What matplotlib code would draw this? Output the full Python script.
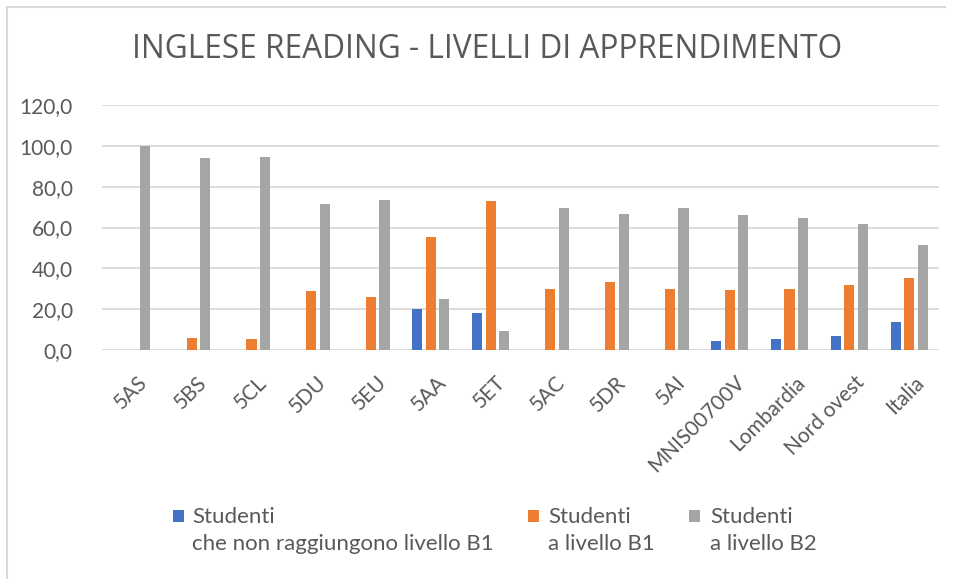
import numpy as np
import matplotlib
matplotlib.use("Agg")
import matplotlib.pyplot as plt
import matplotlib.transforms as mtransforms
from matplotlib.lines import Line2D
from matplotlib.patches import Rectangle

CATS = ["5AS", "5BS", "5CL", "5DU", "5EU", "5AA", "5ET", "5AC", "5DR", "5AI",
        "MNIS00700V", "Lombardia", "Nord ovest", "Italia"]
NON_B1 = [0, 0, 0, 0, 0, 20.0, 18.0, 0, 0, 0, 4.3, 5.4, 6.7, 13.6]
LIV_B1 = [0, 6.1, 5.4, 28.9, 26.2, 55.4, 72.8, 30.0, 33.3, 30.0, 29.5, 30.0, 32.0, 35.1]
LIV_B2 = [100.0, 93.8, 94.3, 71.6, 73.6, 25.1, 9.3, 69.7, 66.6, 69.7, 65.9, 64.8, 61.5, 51.5]
LABELS = ["Studenti\nche non raggiungono livello B1",
          "Studenti\na livello B1",
          "Studenti\na livello B2"]
COLORS = ["#4472C4", "#ED7D31", "#A5A5A5"]
TXT = "#595959"
FONT = "Lato"

W, H = 955, 579
fig = plt.figure(figsize=(W / 100, H / 100), dpi=100)
ax = fig.add_axes([102 / W, 1 - 350 / H, 837 / W, 245 / H])

x = np.arange(len(CATS))
off = 0.226
for i, (vals, col) in enumerate(zip([NON_B1, LIV_B1, LIV_B2], COLORS)):
    ax.bar(x + (i - 1) * off, vals, width=0.17, color=col, linewidth=0, zorder=3)

ax.set_xlim(-0.5, len(CATS) - 0.5)
ax.set_ylim(0, 120)
ax.set_yticks(np.arange(0, 121, 20))
ax.set_yticklabels([f"{v:.1f}".replace(".", ",") for v in np.arange(0, 121, 20)],
                   fontsize=15, color=TXT, family=FONT)
ax.yaxis.grid(True, color="#d9d9d9", lw=1.3, zorder=0)
ax.set_axisbelow(True)
for s in ax.spines.values():
    s.set_visible(False)
ax.tick_params(axis="y", length=0, pad=21)
ax.tick_params(axis="x", length=0, pad=16)
ax.set_xticks(x)
ax.set_xticklabels(CATS, rotation=45, ha="right", va="top", rotation_mode="anchor",
                   fontsize=15, color=TXT, family=FONT)
shift = mtransforms.ScaledTranslation(5 / 100, 0, fig.dpi_scale_trans)
for lab in ax.get_xticklabels():
    lab.set_transform(lab.get_transform() + shift)

fig.text(487 / W, 1 - 50 / H, "INGLESE READING - LIVELLI DI APPRENDIMENTO",
         ha="center", va="center", fontsize=22.8, color=TXT, family="Open Sans")

# legend (Excel style: square next to the first line)
for col, sx, tx, lab in zip(COLORS, [173, 528, 689], [192, 548, 710], LABELS):
    fig.add_artist(Rectangle((sx / W, 1 - 522 / H), 11 / W, 12 / H,
                             transform=fig.transFigure, color=col, lw=0))
    l1, l2 = lab.split("\n")
    fig.text(tx / W, 1 - 523 / H, l1, ha="left", va="baseline",
             fontsize=16, color=TXT, family=FONT)
    fig.text(tx / W, 1 - 550 / H, l2, ha="left", va="baseline",
             fontsize=16, color=TXT, family=FONT)

# chart area border (left and top visible)
fig.add_artist(Line2D([7 / W, 945 / W], [1 - 7 / H, 1 - 7 / H],
                      transform=fig.transFigure, color="#d9d9d9", lw=1.5))
fig.add_artist(Line2D([7 / W, 7 / W], [1 - 7 / H, 0],
                      transform=fig.transFigure, color="#d9d9d9", lw=1.5))

fig.savefig("out.png", dpi=100, facecolor="white")
